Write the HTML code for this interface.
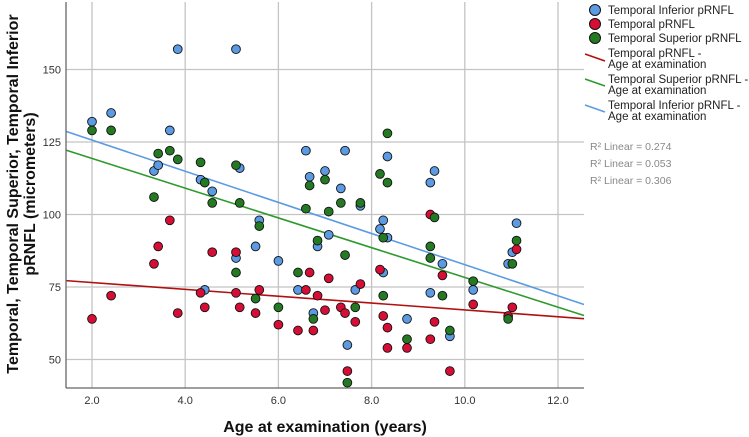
<!DOCTYPE html>
<html><head><meta charset="utf-8"><style>
body{margin:0;background:#fff;}
svg{display:block;font-family:"Liberation Sans",Arial,sans-serif;}
</style></head><body>
<svg id="chart" width="749" height="437" viewBox="0 0 749 437" xmlns="http://www.w3.org/2000/svg">
<g id="grid"></g>
<g id="fits"></g>
<g id="points"></g>
<g id="axes"></g>
<text transform="translate(18,194) rotate(-90)" text-anchor="middle" font-size="16" font-weight="bold" fill="#111"><tspan x="0" y="0">Temporal, Temporal Superior, Temporal Inferior</tspan><tspan x="0" y="17">pRNFL (micrometers)</tspan></text>
<text x="325" y="432" text-anchor="middle" font-size="16" font-weight="bold" fill="#111">Age at examination (years)</text>
<g font-size="11.5" fill="#222">
<g><circle cx="595" cy="10" r="5.5" fill="#5b9be3" stroke="#111" stroke-width="1"/><text x="608" y="14">Temporal Inferior pRNFL</text></g>
<g><circle cx="595" cy="24" r="5.5" fill="#d60e35" stroke="#111" stroke-width="1"/><text x="608" y="28">Temporal pRNFL</text></g>
<g><circle cx="595" cy="38" r="5.5" fill="#237a23" stroke="#111" stroke-width="1"/><text x="608" y="42">Temporal Superior pRNFL</text></g>
<g><line x1="585" y1="54" x2="605" y2="61" stroke="#b01010" stroke-width="1.5"/><text x="608" y="57">Temporal pRNFL -</text><text x="608" y="68">Age at examination</text></g>
<g><line x1="585" y1="79" x2="605" y2="86" stroke="#2d9a2d" stroke-width="1.5"/><text x="608" y="83">Temporal Superior pRNFL -</text><text x="608" y="94">Age at examination</text></g>
<g><line x1="585" y1="105" x2="605" y2="112" stroke="#5b9be3" stroke-width="1.5"/><text x="608" y="109">Temporal Inferior pRNFL -</text><text x="608" y="120">Age at examination</text></g>
</g>
<g font-size="10.5" fill="#888">
<text x="590" y="150">R² Linear = 0.274</text>
<text x="590" y="167">R² Linear = 0.053</text>
<text x="590" y="184">R² Linear = 0.306</text>
</g>
</svg>
<script>
const xTicks=[2,4,6,8,10,12];
const xTickLabels=["2.0","4.0","6.0","8.0","10.0","12.0"];
const yTicks=[50,75,100,125,150];
const yTickLabels=["50","75","100","125","150"];
const infX=[2.0,2.41,3.84,5.09,3.67,3.33,3.42,4.33,4.58,5.17,5.59,5.51,5.09,6.0,4.42,6.42,6.59,6.67,6.84,6.75,7.0,7.34,7.43,7.76,7.08,7.65,7.48,8.25,8.18,8.34,8.25,8.34,8.76,9.26,9.35,9.26,9.52,9.68,10.18,10.93,11.02,11.11];
const infY=[132,135,157,157,129,115,117,112,108,116,98,89,85,84,74,74,122,113,89,66,115,109,122,103,93,74,55,98,95,92,80,120,64,111,115,73,83,58,74,83,87,97];
const temX=[2.0,2.41,3.33,3.42,3.67,3.84,4.33,4.42,4.58,5.09,5.09,5.17,5.51,5.59,6.0,6.42,6.59,6.67,6.75,6.84,7.08,7.0,7.34,7.43,7.65,7.76,7.48,8.18,8.25,8.34,8.34,8.76,9.26,9.52,9.35,9.26,9.68,10.18,11.02,10.93,11.11];
const temY=[64,72,83,89,98,66,73,68,87,87,73,68,66,74,62,60,74,80,60,72,78,67,68,66,63,76,46,81,65,61,54,54,100,79,63,57,46,69,68,65,88];
const supX=[2.0,2.41,3.42,3.67,3.84,3.33,4.33,4.42,4.58,5.09,5.17,5.59,5.09,5.51,6.0,6.42,6.59,6.67,6.84,6.75,7.0,7.08,7.34,7.76,7.43,7.65,7.48,8.34,8.18,8.34,8.25,8.25,8.76,9.35,9.26,9.26,9.52,9.68,10.18,10.93,11.02,11.11];
const supY=[129,129,121,122,119,106,118,111,104,117,104,96,80,71,68,80,102,110,91,64,112,101,104,104,86,68,42,128,114,111,92,72,57,99,89,85,72,60,77,64,83,91];
const fitIntercepts=[78.9,129.6,136.4];
const fitSlopes=[-1.18,-5.13,-5.37];
const NS="http://www.w3.org/2000/svg";
const L=66,R=584,T=2,B=388;
function xs(v){return 92+(v-2)*46.6;}
function ys(v){return 359.5-(v-50)*2.9;}
function mk(tag,attrs,parent){const e=document.createElementNS(NS,tag);for(const k in attrs)e.setAttribute(k,attrs[k]);parent.appendChild(e);return e;}
const grid=document.getElementById('grid'),axes=document.getElementById('axes'),pts=document.getElementById('points'),fits=document.getElementById('fits');
xTicks.forEach((t,i)=>{
 const g=mk('line',{x1:xs(t),x2:xs(t),y1:T,y2:B,stroke:'#c4c4c4','stroke-width':1.3},grid);
 
 
 const tx=mk('text',{x:xs(t),y:404,'text-anchor':'middle','font-size':11,fill:'#333'},axes);
 tx.textContent=xTickLabels[i];
 
 
});
yTicks.forEach((t,i)=>{
 const g=mk('line',{x1:L,x2:R,y1:ys(t),y2:ys(t),stroke:'#c4c4c4','stroke-width':1.3},grid);
 
 
 const tx=mk('text',{x:L-5,y:ys(t)+4,'text-anchor':'end','font-size':11,fill:'#333'},axes);
 tx.textContent=yTickLabels[i];
 
 
});
const ax1=mk('line',{x1:L,x2:L,y1:T,y2:B,stroke:'#666','stroke-width':1.3},axes);


const ax2=mk('line',{x1:L,x2:R,y1:B,y2:B,stroke:'#666','stroke-width':1.3},axes);


const fitColors=['#b01010','#2d9a2d','#5b9be3'];
const fitNames=['temporal-fit-line','superior-fit-line','inferior-fit-line'];
const x0=(L-92)/46.6+2,x1=(R-92)/46.6+2;
fitIntercepts.forEach((a,i)=>{
 const b=fitSlopes[i];
 const ln=mk('line',{x1:xs(x0),y1:ys(a+b*x0),x2:xs(x1),y2:ys(a+b*x1),stroke:fitColors[i],'stroke-width':1.6},fits);
 
 
});
function drawPts(X,Y,color,name){
 X.forEach((x,i)=>{
  const c=mk('circle',{cx:xs(x),cy:ys(Y[i]),r:4.4,fill:color,stroke:'#111','stroke-width':0.9},pts);
  
  
 });
}
drawPts(infX,infY,'#5b9be3','inferior-point');
drawPts(temX,temY,'#d60e35','temporal-point');
drawPts(supX,supY,'#237a23','superior-point');
</script>
</body></html>
